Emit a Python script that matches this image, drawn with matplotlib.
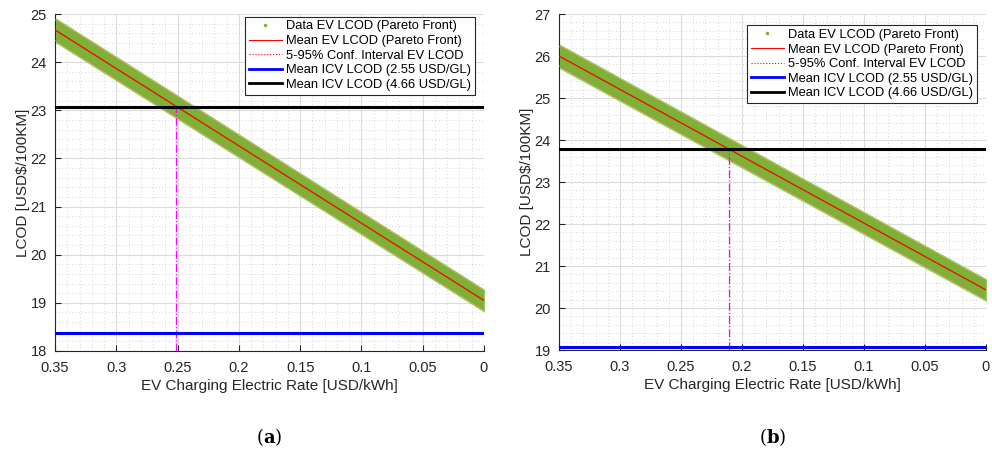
import matplotlib.pyplot as plt
from matplotlib.lines import Line2D
from matplotlib.ticker import MultipleLocator

plt.rcParams['font.family'] = ['Liberation Sans', 'DejaVu Sans']
plt.rcParams['mathtext.fontset'] = 'dejavuserif'

# values
rate = [0.35, 0.0]                 # EV charging electric rate [USD/kWh]
mean_a = [24.67, 19.05]            # mean EV LCOD, panel (a)
mean_b = [26.00, 20.43]            # mean EV LCOD, panel (b)
spread_a = [0.24, 0.22]            # half width of the data cloud
spread_b = [0.27, 0.25]
ci_a = [0.21, 0.19]                # half width of 5-95% interval
ci_b = [0.23, 0.21]
icv_low = [18.37, 19.08]           # mean ICV LCOD (2.55 USD/GL)
icv_high = [23.07, 23.79]          # mean ICV LCOD (4.66 USD/GL)
cross = [0.251, 0.211]             # break-even rate
ylims = [(18, 25), (19, 27)]
panel_tags = ['a', 'b']

green = '#7cb236'

fig = plt.figure(figsize=(9.92, 4.53), dpi=100)
boxes = [[55 / 992, 1 - 351 / 453, 429 / 992, 337 / 453],
         [559 / 992, 1 - 350 / 453, 427 / 992, 336 / 453]]
legend_pos = [(0.985, 1.0), (0.985, 0.975)]

for i, (mean, spread, ci) in enumerate([(mean_a, spread_a, ci_a),
                                         (mean_b, spread_b, ci_b)]):
    ax = fig.add_axes(boxes[i])
    lo = [m - s for m, s in zip(mean, spread)]
    hi = [m + s for m, s in zip(mean, spread)]
    ax.fill_between(rate, lo, hi, color=green, lw=1.2, edgecolor='#9acb5c', zorder=2)
    ax.plot(rate, [m - c for m, c in zip(mean, ci)], ':', color='#ff6060', lw=0.8, zorder=3)
    ax.plot(rate, [m + c for m, c in zip(mean, ci)], ':', color='#ff6060', lw=0.8, zorder=3)
    ax.plot(rate, mean, color='red', lw=0.9, zorder=4)
    ax.axhline(icv_low[i], color='blue', lw=2.2, zorder=5)
    ax.axhline(icv_high[i], color='black', lw=2.2, zorder=5)
    ax.plot([cross[i], cross[i]], [ylims[i][0], icv_high[i]], '-.',
            color='magenta', lw=0.9, zorder=4)

    ax.set_xlim(0.35, 0)
    ax.set_ylim(*ylims[i])
    ax.xaxis.set_major_locator(MultipleLocator(0.05))
    ax.xaxis.set_minor_locator(MultipleLocator(0.01))
    ax.yaxis.set_major_locator(MultipleLocator(1))
    ax.yaxis.set_minor_locator(MultipleLocator(0.2))
    ax.xaxis.set_major_formatter(plt.FuncFormatter(lambda v, p: f'{v:g}'))
    ax.grid(which='major', color='#dcdcdc', lw=0.8)
    ax.grid(which='minor', color='#c8c8c8', lw=0.6, ls=(0, (1, 3)))
    ax.set_axisbelow(True)
    for s in ['top', 'right']:
        ax.spines[s].set_visible(False)
    for s in ['left', 'bottom']:
        ax.spines[s].set_color('#262626')
        ax.spines[s].set_linewidth(0.8)
    ax.tick_params(which='both', direction='in', colors='#262626', labelsize=10.5)
    ax.tick_params(which='minor', length=0)
    ax.tick_params(which='major', length=4)
    ax.tick_params(axis='x', pad=7)
    ax.tick_params(axis='y', pad=6)
    ax.set_xlabel('EV Charging Electric Rate [USD/kWh]', fontsize=11, color='#262626',
                  labelpad=3)
    ax.set_ylabel(r'LCOD [USD\$/100KM]', fontsize=11, color='#262626', labelpad=0)

    handles = [
        Line2D([], [], ls='none', marker='.', ms=3, color=green),
        Line2D([], [], color='red', lw=0.8),
        Line2D([], [], color='red', lw=0.8, ls=':'),
        Line2D([], [], color='blue', lw=2.0),
        Line2D([], [], color='black', lw=2.0),
    ]
    labels = ['Data EV LCOD (Pareto Front)', 'Mean EV LCOD (Pareto Front)',
              '5-95% Conf. Interval EV LCOD', 'Mean ICV LCOD (2.55 USD/GL)',
              'Mean ICV LCOD (4.66 USD/GL)']
    leg = ax.legend(handles, labels, loc='upper right', bbox_to_anchor=legend_pos[i],
                    fontsize=9.3, fancybox=False, framealpha=1, edgecolor='#262626',
                    handlelength=2.6, handletextpad=0.3, labelspacing=0.2,
                    borderpad=0.3, borderaxespad=0.2)
    leg.get_frame().set_linewidth(0.8)

    cx = boxes[i][0] + boxes[i][2] / 2
    fig.text(cx, 1 - 437 / 453, r'$(\mathbf{' + panel_tags[i] + '})$',
             ha='center', va='center', fontsize=13)

fig.savefig('out.png', dpi=100)
